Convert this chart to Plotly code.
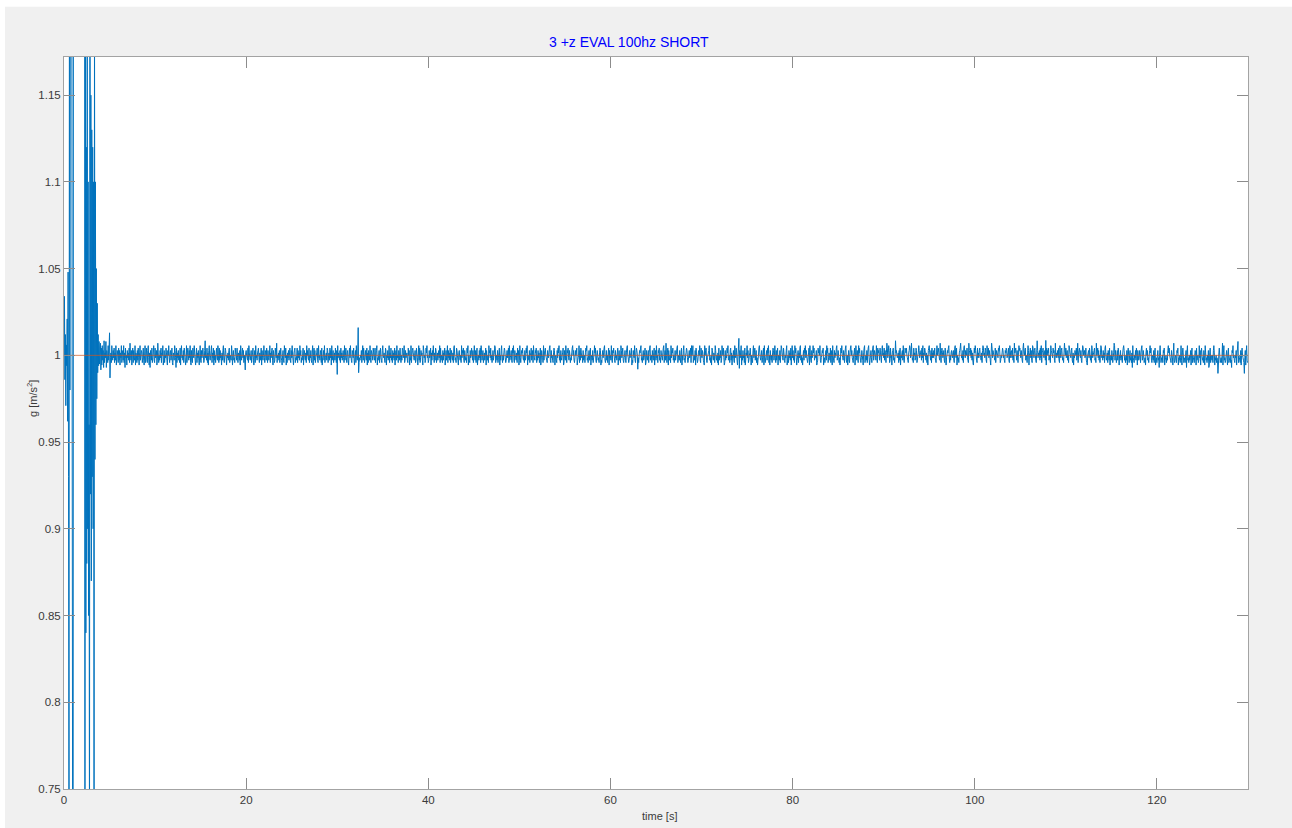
import plotly.graph_objects as go

# Accelerometer z-axis record, resampled to 20 Hz (0.05 s per sample)
dt = 0.05

# First 4 s: sensor being turned over; large swings, partly off-scale
start_g = [
    1.000, 1.034, 0.986, 1.012, 0.971, 1.006, 0.994, 1.021, 0.962, 1.048,
    0.930, 0.720, 1.300, 0.980, 1.250, 1.220, 1.400, 1.300, 0.950, 0.700,
    0.650, 1.450, 1.520, 1.540, 1.560, 1.580, 1.600, 1.610, 1.620, 1.620,
    1.610, 1.600, 1.590, 1.580, 1.570, 1.560, 1.550, 1.540, 1.530, 1.520,
    1.510, 1.500, 1.490, 1.480, 1.470, 1.460, 0.700, 1.250, 0.840, 1.120,
    0.880, 1.200, 0.900, 1.100, 0.850, 0.960, 0.700, 1.250, 0.920, 1.150,
    0.870, 1.130, 0.930, 1.120, 0.900, 1.100, 0.720, 1.200, 0.940, 1.100,
    0.960, 1.050, 0.975, 1.030, 0.990, 1.012, 0.994, 1.008, 0.995, 1.005,
]

# Resting noise from 4 s on, one letter per sample: 'm' = 1 g, one letter step = noise_step
noise_rows = [
    "rgpiqkohsj nlrhomjqkp iolnjqmkol pjnkqilomj pkoinlqjmo kqjnhplmio lnkpjrmkoi mpjolkqinm jokplinqkm onjlpkimqj",
    "kpmjoqlinh omkpjlnqkj plmoikrnjm kolpjnmqik ojmlpnkiom qljnokmpji nmkqolhpjn lokmjpinql mkojpnlikq jnpmkolqji",
    "okjpmlqnki mpjnlokimq kjolnpmjko slmkpjnioq lkmoqjnlpi okmjnplkqm jpkolminko qkjmpoliml nkopjmlkqn imokljpnmk",
    "pljnmkoiqm knplojmkgn omlkpjqnlk mojlnpkimo jqlmknoplj nkmpiolkmq ljonkpmjol kmqjnlopki omjkpnlrjm lnkojmplki",
    "mokjqnlpim jnlokmpkjo lqmkinopjl kmpjolnkqm ojlkmpinol knjqmolkpj mlokjnqimp kojlmnpkjq lmkonjpilm okqjlmnkpo",
    "jmnkploiqk mojlnkpmjo iqlnmkojpl nkmoljqkmp ljnokimplq mkjonlpkim ojqlkmnpjl kmlojnqkpm jlomkpinjo mkqljonmkp",
    "nlkpjmoqil kmojnplkjo qmlnkjpoim lokmqjnlpk mjolnkpimo kqlmjonkpl jmkpolnqjk olmnkjpmoi lkqjmopnlk mojkpnlimq",
    "kpjlomnkiq olmjkpnqlm jkolmpinko mqljnkpojl nkmolqjpkm ljoknmpilo kmqjolnkpj molknjpqmk ljpomkinol kmjqlonpkj",
    "omkljpnqim kjolmpnkoj lqmkojnpil mkolpjqnkm ojlnkmpiol kmjqnolpkm jlokmnqpjl mkojlnpimk oqljmknpol jkmolnpjqk",
    "lmokjpnqkj omlknjpmoi kqljmonplk mjoklpnqim lkojmnpklo jqmlkonpjm kolnjmpiko mljqknopml kjomlnpqkj olmkjnpoil",
    "mkjolpnqkm jolkmnpijo lkqmjonplk omjlknpqmo kjlomnpikl mqjokpnlmj oklmjnpoqk ljmoknpilm kojlmqnpkj momkljnpoi",
    "kjmolnpqkj lokmjnpiol mkqljonpmk jolmknpilo kmjqolnpkj lmokjnpqml jkolmnpikj omlqkjnpom kljmonpqkl jmoklnpijo",
    "lkmojnpqkl mjolknpimo kqlmjonpkl jomlknpqjm oklmjnpiol kmjqlonpkm jlokmnpqjl mkoljnpimk oqlkjmnpol jkmolnpjqm",
    "nqjlmkoipm ljknomqkjp mlonkjiqmo pkjlmnoqkl jmipolknmj qolkmjnipk mlojkqnmpl ijokmlpnqk lmjopkniml okjqmlpnki",
    "mpkjolnqim kolmjpiknm qlojkmnpli mkjoqlnpkm ojlikmpqnl kmojlnpiqk jlmokpnqjm iolkmjnpok mqljoknpim lkojmqpnlk",
    "pnkjmloqik mjolnkpimq lokmjqnpli kmojnlpqkm jlimokpnql omkjlnpiqm kjolmqnpkl mloijkpnom qkjlmonpik ljmokqnpjl",
    "nmkpjoliqm kjolnmpqkl omjlikpnqm lkomjnpqkj milokjnpqm olkjmnpilq mkoljqnpmk jlomkinpqj lmkojnpqli kmoljnpqkm",
    "onlkqmjpno mkpnljoqmn lpkomjnrpl nqojkplmin opkljmsnom lmnjokpiml nokqljmpon pmlkjnoqpl mrnkljpmnk lpojkmnqol",
    "mnokplqjnm polknjmiop qnmkojplnl omplkjnqmo pnlkrmjopn lmokjpnilm onpqljmkno mlnokjpqml pimkljnopr nlmkojpqnl",
    "onmplkjron mploknjimp nqomkjplnl opmlknjoqp mnlpokjqmn plomkinrpl onmlkpjmon mlpoqnjkml npolmkjonp olmnpkjqol",
    "nolpkmjrno pmkoljnqop nlomkjprnm opkmljnqoi mnplokjqpn lopmkjnsol nmokplqjno pmlnokjipm onpklmjqon mlpnokjrml",
    "nmolpkjqnl opmkljnrom plnokmjqpn mlopkjniml onmpklrjno pmlokjnqpm nolmpkjimn olpnkmjqol mnopkljrmn plokmjnqpl",
    "mkolnjpqmk lnjomkpilm komjlnrqko mjlokpniml okmljnpqok ljmkoinpmj mokljnhqlk jmlokpniom klomjnpqkl omjklinpmo",
    "kljmoqnpkj mlkojnpikl jmoklhnqmj lkmjonpikl mjlkoqnpml kjomlinrkj lmkjonpilk mjlqkinpmj kljmohnqkl jmkloinpjm",
    "lkjmonipkl mjkqloinpm kljomiqnkl jmkohinpjm lkmjoqnilk mjlkoinpmj kljmrinqkl jkmolinpjk lmjkhonqlm kjmloinpkj",
    "mlkjoinpml kjmloinqkj",
]
noise_step = 0.0014

# Isolated spikes that stand out of the noise band
spike_t = [4.6, 5.0, 5.05, 30.0, 32.3, 32.35, 63.0, 66.1, 74.1, 74.15, 107.8, 126.7, 128.9, 129.6]
spike_g = [1.008, 1.013, 0.987, 0.989, 1.016, 0.990, 0.992, 1.007, 1.0098, 0.9925, 1.0086, 0.9896, 1.008, 0.9896]

# Axis ticks
x_ticks = [0, 20, 40, 60, 80, 100, 120]
y_ticks = [0.75, 0.8, 0.85, 0.9, 0.95, 1.0, 1.05, 1.1, 1.15]
y_tick_text = ["0.75", "0.8", "0.85", "0.9", "0.95", "1", "1.05", "1.1", "1.15"]

# Assemble the sampled signal
g = list(start_g)
for row in noise_rows:
    for ch in row.replace(" ", ""):
        g.append(1.0 + (ord(ch) - ord("m")) * noise_step)
for ts, gs in zip(spike_t, spike_g):
    g[int(round(ts / dt))] = gs
t = [i * dt for i in range(len(g))]

FONT = "Liberation Sans, Arial, Helvetica, sans-serif"
AX_LINE = "#a3a3a3"
TXT = "#3a3a3a"

fig = go.Figure()
fig.add_trace(go.Scatter(
    x=t, y=g, mode="lines",
    line=dict(color="#0072BD", width=1.0, simplify=False),
    hoverinfo="skip", showlegend=False,
))
# Reference level at 1 g
fig.add_trace(go.Scatter(
    x=[0, 130], y=[1, 1], mode="lines",
    line=dict(color="#D95319", width=0.7),
    hoverinfo="skip", showlegend=False,
))

axis_common = dict(
    showgrid=False, zeroline=False, showline=True, linecolor=AX_LINE, linewidth=1,
    mirror="ticks", ticks="inside", ticklen=11, tickwidth=1, tickcolor="#8c8c8c",
    tickfont=dict(family=FONT, size=11.5, color=TXT),
)
fig.update_xaxes(range=[0, 130], tickvals=x_ticks, **axis_common)
fig.update_yaxes(range=[0.75, 1.172], tickvals=y_ticks, ticktext=y_tick_text, **axis_common)

# Thin white page edge to the left of and above the grey figure window
fig.add_shape(type="rect", xref="paper", yref="paper",
              x0=-0.06, x1=-0.0498, y0=-0.1, y1=1.1,
              fillcolor="white", line=dict(width=0), layer="below")
fig.add_shape(type="rect", xref="paper", yref="paper",
              x0=-0.06, x1=1.1, y0=1.0685, y1=1.1,
              fillcolor="white", line=dict(width=0), layer="below")

fig.add_annotation(text="3 +z EVAL 100hz SHORT", xref="paper", yref="paper",
                   x=0.4776, y=1.0205, xanchor="center", yanchor="middle",
                   showarrow=False, font=dict(family=FONT, size=14, color="#0000ff"))
fig.add_annotation(text="time [s]", xref="paper", yref="paper",
                   x=0.503, y=-0.037, xanchor="center", yanchor="middle",
                   showarrow=False, font=dict(family=FONT, size=11, color=TXT))
fig.add_annotation(text="g [m/s<sup>2</sup>]", xref="paper", yref="paper",
                   x=-0.027, y=0.533, xanchor="center", yanchor="middle", textangle=-90,
                   showarrow=False, font=dict(family=FONT, size=11, color=TXT))

fig.update_layout(
    width=1292, height=828,
    margin=dict(l=64, r=44, t=57, b=39),
    paper_bgcolor="#f0f0f0", plot_bgcolor="white",
)

fig.write_html("out.html")
